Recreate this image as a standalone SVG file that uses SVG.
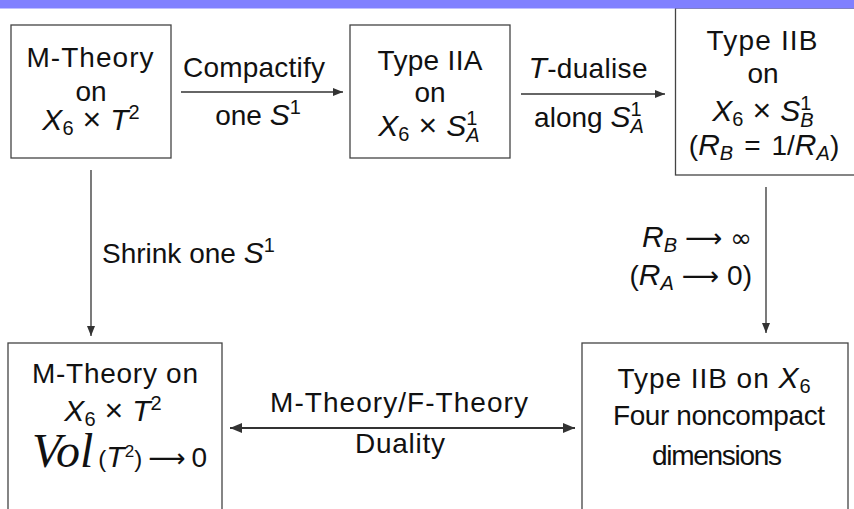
<svg xmlns="http://www.w3.org/2000/svg" width="854" height="509" viewBox="0 0 854 509">
<style>
text{font-family:"Liberation Sans",Arial,sans-serif;font-size:28px;fill:#111;text-anchor:middle}
.l{text-anchor:start}
.r{text-anchor:end}
.i{font-style:italic;font-size:30px}
.s{font-size:20px}
.si{font-size:20px;font-style:italic}
.op{font-family:"DejaVu Sans",sans-serif;font-size:26px}
.x{font-size:32px}
.box{fill:#fff;stroke:#444;stroke-width:1.3}
.c{stroke:#333;stroke-width:1.3;fill:none}
.c2{stroke:#333;stroke-width:2.2;fill:none}
</style>
<defs>
<marker id="ah" viewBox="0 0 10 8" refX="10" refY="4" markerWidth="10" markerHeight="8" markerUnits="userSpaceOnUse" orient="auto"><path d="M0,0 L10,4 L0,8 z" fill="#333"/></marker>
<marker id="ah2" viewBox="0 0 12 10" refX="12" refY="5" markerWidth="13" markerHeight="10" markerUnits="userSpaceOnUse" orient="auto-start-reverse"><path d="M0,0 L12,5 L0,10 z" fill="#333"/></marker>
</defs>
<rect width="854" height="509" fill="#fff"/>

<g id="connectors">
<line class="c" x1="181" y1="92" x2="343" y2="92" marker-end="url(#ah)"/>
<line class="c" x1="521" y1="94" x2="665" y2="94" marker-end="url(#ah)"/>
<line class="c" x1="91" y1="170" x2="91" y2="336" marker-end="url(#ah)"/>
<line class="c" x1="766" y1="187" x2="766" y2="333" marker-end="url(#ah)"/>
<line class="c2" x1="230" y1="428" x2="575" y2="428" marker-start="url(#ah2)" marker-end="url(#ah2)"/>
<text x="254" y="77" textLength="142">Compactify</text>
<text x="258" y="125">one <tspan class="i">S</tspan><tspan class="s" dy="-11">1</tspan></text>
<text x="588" y="78" textLength="119"><tspan class="i">T</tspan>-dualise</text>
<text x="589" y="127">along <tspan class="i">S</tspan><tspan class="s" dy="-11">1</tspan><tspan class="si" dx="-11" dy="17">A</tspan></text>
<text class="l" x="102" y="263">Shrink one <tspan class="i">S</tspan><tspan class="s" dy="-11">1</tspan></text>
<text class="r" x="752" y="247"><tspan class="i">R</tspan><tspan class="si" dy="5">B</tspan><tspan class="op" dy="-5" dx="8">⟶</tspan><tspan class="op" dx="8" font-size="40">∞</tspan></text>
<text class="r" x="752" y="285">(<tspan class="i">R</tspan><tspan class="si" dy="5">A</tspan><tspan class="op" dy="-5" dx="8">⟶</tspan><tspan dx="8">0)</tspan></text>
<text x="399" y="412" textLength="258">M-Theory/F-Theory</text>
<text x="400" y="453" textLength="90">Duality</text>
</g>

<g id="n1">
<rect class="box" x="11" y="25" width="160" height="133"/>
<text x="90" y="67" textLength="127">M-Theory</text>
<text x="91" y="101">on</text>
<text x="91" y="130"><tspan class="i">X</tspan><tspan class="s" dy="5">6</tspan><tspan class="x" dy="-5" dx="9">×</tspan><tspan class="i" dx="9">T</tspan><tspan class="s" dy="-11">2</tspan></text>
</g>

<g id="n2">
<rect class="box" x="350" y="25" width="160" height="133"/>
<text x="430" y="70" textLength="105">Type IIA</text>
<text x="430" y="102">on</text>
<text x="429" y="136"><tspan class="i">X</tspan><tspan class="s" dy="5">6</tspan><tspan class="x" dy="-5" dx="9">×</tspan><tspan class="i" dx="9">S</tspan><tspan class="s" dy="-11">1</tspan><tspan class="si" dx="-11" dy="17">A</tspan></text>
</g>

<g id="n3">
<rect class="box" x="675.5" y="8" width="200" height="167"/>
<text x="762" y="50" textLength="111">Type IIB</text>
<text x="763" y="83">on</text>
<text x="763" y="121"><tspan class="i">X</tspan><tspan class="s" dy="5">6</tspan><tspan class="x" dy="-5" dx="9">×</tspan><tspan class="i" dx="9">S</tspan><tspan class="s" dy="-11">1</tspan><tspan class="si" dx="-11" dy="17">B</tspan></text>
<text x="764" y="155" font-size="31">(<tspan class="i" font-size="31">R</tspan><tspan class="si" dy="5">B</tspan><tspan dy="-5" dx="11">=</tspan><tspan dx="11">1/</tspan><tspan class="i" font-size="31">R</tspan><tspan class="si" dy="5">A</tspan><tspan dy="-5">)</tspan></text>
</g>

<g id="n4">
<rect class="box" x="8" y="343" width="214" height="200"/>
<text x="115" y="383" textLength="166">M-Theory on</text>
<text x="113" y="421"><tspan class="i">X</tspan><tspan class="s" dy="5">6</tspan><tspan class="x" dy="-5" dx="9">×</tspan><tspan class="i" dx="9">T</tspan><tspan class="s" dy="-11">2</tspan></text>
<text class="l" x="32" y="467"><tspan font-family="Liberation Serif" font-style="italic" font-size="48">Vol</tspan><tspan font-size="24" dx="5">(</tspan><tspan class="i" font-size="25">T</tspan><tspan font-size="17" dy="-10">2</tspan><tspan font-size="24" dy="10">)</tspan><tspan class="op" dx="6">⟶</tspan><tspan dx="6">0</tspan></text>
</g>

<g id="n5">
<rect class="box" x="582" y="343" width="266" height="200"/>
<text x="714" y="388" textLength="193">Type IIB on <tspan class="i">X</tspan><tspan class="s" dy="5">6</tspan></text>
<text x="719" y="425" textLength="212">Four noncompact</text>
<text x="717" y="465" textLength="130">dimensions</text>
</g>

<rect x="0" y="0" width="854" height="8.5" fill="#8080ff"/>
</svg>
